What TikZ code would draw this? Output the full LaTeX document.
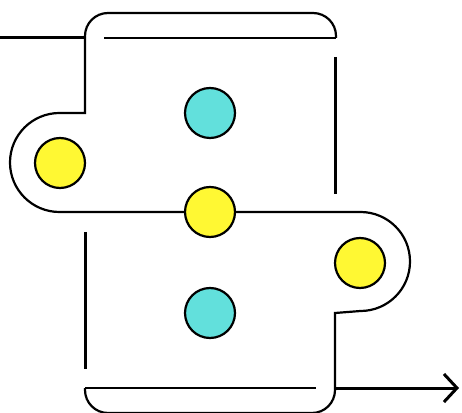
\documentclass[tikz,border=0pt]{standalone}
\usepackage{xcolor}
\usepackage{tikz}
\usetikzlibrary{arrows.meta,positioning,calc}

\definecolor{dotcyan}{HTML}{62E0DC}
\definecolor{dotyellow}{HTML}{FFF833}

\begin{document}
\begin{tikzpicture}[
    x=1pt, y=1pt,
    outline/.style={draw, line width=2.2pt},
    lidline/.style={draw, line width=2.6pt},
    wire/.style={draw, line width=3pt},
    dot/.style={circle, draw, line width=2.2pt, minimum size=50pt, inner sep=0pt},
    cdot/.style={dot, fill=dotcyan},
    ydot/.style={dot, fill=dotyellow},
    arrow/.style={-{Straight Barb[length=13pt, width=28pt, line width=3pt]}},
]
    \useasboundingbox (0,0) rectangle (462,412);

    \coordinate (win) at (0,374);
    \coordinate (tl) at (85,374);
    \coordinate (br) at (335,24);
    \coordinate (wout) at (459,24);

    \draw[outline] (tl) -- (85,299) -- (59.5,299) arc[start angle=90, end angle=270, radius=49.5]
        -- (360.5,200) arc[start angle=90, end angle=-90, radius=49.5] -- (335,99) -- (br);

    \draw[outline, rounded corners=23pt] (tl) -- (85,399) -- (336,399) -- (336,374);
    \draw[lidline] (104,374) -- (336,374);
    \draw[outline, rounded corners=23pt] (br) -- (335,-1) -- (85,-1) -- (85,24);
    \draw[lidline] (85,24) -- (316,24);

    \draw[wire] (win) -- (tl);
    \draw[wire, arrow] (br) -- (wout);
    \draw[wire] (335,355) -- (335,218);
    \draw[wire] (85,180) -- (85,43);

    \node[cdot] (c1) at (210,299) {};
    \node[ydot] (y1) at (60,249) {};
    \node[ydot] (y2) at (210,200) {};
    \node[ydot] (y3) at (360,149) {};
    \node[cdot] (c2) at (210,99) {};
\end{tikzpicture}
\end{document}
